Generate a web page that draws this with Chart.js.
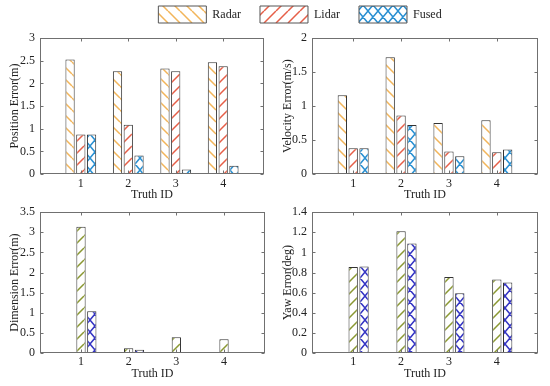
<!DOCTYPE html>
<html><head><meta charset="utf-8">
<script src="https://cdn.jsdelivr.net/npm/chart.js@4"></script>
<style>
html,body{margin:0;padding:0;background:#fff;overflow:hidden;width:550px;height:386px;position:relative;}
canvas{position:absolute;}
</style></head><body>
<canvas id="leg" width="504" height="120" style="left:48px;top:-13px"></canvas>
<canvas id="c1" width="275" height="185" style="left:0px;top:26px"></canvas>
<canvas id="c2" width="275" height="185" style="left:275px;top:26px"></canvas>
<canvas id="c3" width="275" height="186" style="left:0px;top:200px"></canvas>
<canvas id="c4" width="275" height="186" style="left:275px;top:200px"></canvas>
<script>
// ---- data ----
const categories = ['1', '2', '3', '4'];
const seriesNames = ['Radar', 'Lidar', 'Fused'];
const xTitle = 'Truth ID';

const posRadar = [2.53, 2.27, 2.33, 2.47];
const posLidar = [0.87, 1.09, 2.27, 2.38];
const posFused = [0.87, 0.41, 0.10, 0.18];

const velRadar = [1.16, 1.72, 0.75, 0.79];
const velLidar = [0.38, 0.86, 0.33, 0.32];
const velFused = [0.38, 0.72, 0.26, 0.36];

const dimRadar = [0, 0, 0, 0];
const dimLidar = [3.14, 0.12, 0.39, 0.34];
const dimFused = [1.04, 0.08, 0, 0.01];

const yawRadar = [0, 0, 0, 0];
const yawLidar = [0.855, 1.21, 0.755, 0.73];
const yawFused = [0.86, 1.09, 0.595, 0.70];

const posTicks = [0, 0.5, 1, 1.5, 2, 2.5, 3];
const velTicks = [0, 0.5, 1, 1.5, 2];
const dimTicks = [0, 0.5, 1, 1.5, 2, 2.5, 3, 3.5];
const yawTicks = [0, 0.2, 0.4, 0.6, 0.8, 1, 1.2, 1.4];

// ---- patterns ----
function hatch(color, type, w, h) {
  const c = document.createElement('canvas');
  c.width = w; c.height = h;
  const g = c.getContext('2d');
  g.fillStyle = '#fff'; g.fillRect(0, 0, w, h);
  g.strokeStyle = color; g.lineWidth = 1.5;
  g.beginPath();
  if (type === '\\' || type === 'x') {
    g.moveTo(0, 0); g.lineTo(w, h);
    g.moveTo(-w, 0); g.lineTo(0, h);
    g.moveTo(w, 0); g.lineTo(2 * w, h);
  }
  if (type === '/' || type === 'x') {
    g.moveTo(0, h); g.lineTo(w, 0);
    g.moveTo(-w, h); g.lineTo(0, 0);
    g.moveTo(w, h); g.lineTo(2 * w, 0);
  }
  g.stroke();
  return g.createPattern(c, 'repeat');
}
const pRadar = hatch('#f2b55a', '\\', 12, 12);
const pLidarTop = hatch('#e65f48', '/', 12, 12);
const pFusedTop = hatch('#2a90d2', 'x', 10, 12);
const pLidarBot = hatch('#8a9832', '/', 12, 12);
const pFusedBot = hatch('#3535c4', 'x', 10, 12);

const FONT = {family: '"Liberation Serif", "Times New Roman", serif', size: 12};
const TXT = '#222';
const EDGE = '#333';

const boxPlugin = {
  id: 'boxTicks',
  afterDatasetsDraw(chart) {
    const {ctx, chartArea, scales} = chart;
    const L = Math.round(chartArea.left) + 0.5, R = Math.round(chartArea.right) - 0.5;
    const T = Math.round(chartArea.top) + 0.5, B = Math.round(chartArea.bottom) - 0.5;
    ctx.save();
    ctx.strokeStyle = '#707070'; ctx.lineWidth = 1;
    ctx.strokeRect(L, T, R - L, B - T);
    ctx.beginPath();
    scales.x.ticks.forEach(t => {
      const px = Math.round(scales.x.getPixelForValue(t.value)) + 0.5;
      ctx.moveTo(px, B); ctx.lineTo(px, B - 3);
      ctx.moveTo(px, T); ctx.lineTo(px, T + 3);
    });
    scales.y.ticks.forEach(t => {
      const py = Math.round(scales.y.getPixelForValue(t.value)) + 0.5;
      ctx.moveTo(L, py); ctx.lineTo(L + 3, py);
      ctx.moveTo(R, py); ctx.lineTo(R - 3, py);
    });
    ctx.stroke();
    ctx.restore();
  }
};

function ds(label, vals, pat) {
  return {
    label, data: vals.map((v, i) => ({x: i + 1, y: v})),
    backgroundColor: pat, borderColor: EDGE, borderWidth: 1, borderSkipped: false,
    categoryPercentage: 0.68, barPercentage: 0.86
  };
}

function makeChart(id, title, vals, pats, tickVals, cfg) {
  return new Chart(document.getElementById(id), {
    type: 'bar',
    data: {datasets: vals.map((v, i) => ds(seriesNames[i], v, pats[i]))},
    plugins: [boxPlugin],
    options: {
      responsive: false, animation: false,
      layout: {padding: {top: cfg.padTop, right: cfg.padRight, left: 0, bottom: 0}},
      plugins: {legend: {display: false}, tooltip: {enabled: false}},
      scales: {
        x: {
          type: 'linear', min: 0.14, max: 4.86, offset: false,
          grid: {display: false, drawTicks: false}, border: {display: false},
          afterFit: s => { s.height = cfg.xH; },
          afterBuildTicks: s => { s.ticks = categories.map((c, i) => ({value: i + 1})); },
          ticks: {font: FONT, color: TXT, padding: cfg.xTickPad, maxRotation: 0,
                  callback: (v) => categories[Math.round(v) - 1]},
          title: {display: true, text: xTitle, font: FONT, color: TXT, padding: {top: 0, bottom: cfg.xTitlePad}}
        },
        y: {
          min: tickVals[0], max: tickVals[tickVals.length - 1],
          grid: {display: false, drawTicks: false}, border: {display: false},
          afterFit: s => { s.width = cfg.yW; },
          afterBuildTicks: s => { s.ticks = tickVals.map(v => ({value: v})); },
          ticks: {font: FONT, color: TXT, padding: 5, callback: v => String(Number(v.toFixed(2)))},
          title: {display: true, text: title, font: FONT, color: TXT, padding: {top: cfg.yTitlePad, bottom: 0}}
        }
      }
    }
  });
}

makeChart('c1', 'Position Error(m)', [posRadar, posLidar, posFused], [pRadar, pLidarTop, pFusedTop], posTicks,
  {padTop: 5, padRight: 11, xH: 37, yW: 40, xTickPad: 3, xTitlePad: 9, yTitlePad: 8});
makeChart('c2', 'Velocity Error(m/s)', [velRadar, velLidar, velFused], [pRadar, pLidarTop, pFusedTop], velTicks,
  {padTop: 5, padRight: 12, xH: 37, yW: 37, xTickPad: 3, xTitlePad: 9, yTitlePad: 6});
makeChart('c3', 'Dimension Error(m)', [dimRadar, dimLidar, dimFused], [pRadar, pLidarBot, pFusedBot], dimTicks,
  {padTop: 10, padRight: 10, xH: 33, yW: 40, xTickPad: 2, xTitlePad: 5, yTitlePad: 8});
makeChart('c4', 'Yaw Error(deg)', [yawRadar, yawLidar, yawFused], [pRadar, pLidarBot, pFusedBot], yawTicks,
  {padTop: 10, padRight: 12, xH: 33, yW: 37, xTickPad: 2, xTitlePad: 5, yTitlePad: 6});

// shared legend
new Chart(document.getElementById('leg'), {
  type: 'bar',
  data: {datasets: seriesNames.map((n, i) => ({label: n, data: [], backgroundColor: [pRadar, pLidarTop, pFusedTop][i],
    borderColor: '#555', borderWidth: 1}))},
  options: {
    responsive: false, animation: false,
    layout: {padding: 0},
    scales: {x: {display: false}, y: {display: false}},
    plugins: {
      tooltip: {enabled: false},
      legend: {display: true, position: 'top', align: 'center',
        labels: {boxWidth: 48, boxHeight: 17, padding: 19, font: FONT, color: TXT}}
    }
  }
});
</script>
</body></html>
